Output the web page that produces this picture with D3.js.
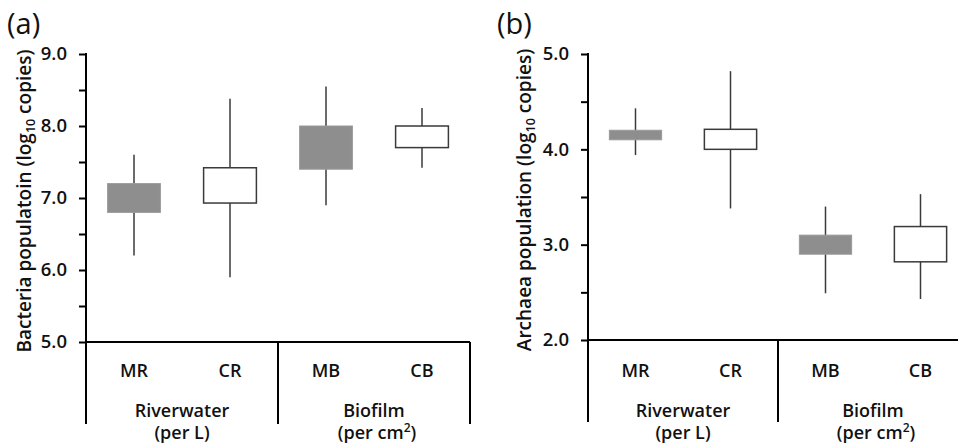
<!DOCTYPE html>
<html>
<head>
<meta charset="utf-8">
<script src="https://cdn.jsdelivr.net/npm/d3@7"></script>
<style>
  body { margin: 0; background: #fff; }
  text { font-family: "Open Sans", "Noto Sans", sans-serif; fill: #111; }
</style>
</head>
<body>
<svg id="chart" width="958" height="444"></svg>
<script>
// categories and groups
var categories = ["MR", "CR", "MB", "CB"];
var filled = [true, false, true, false];
var groups = ["Riverwater", "Biofilm"];

// panel (a): bacteria, log10 copies
var bacMin = [6.2, 5.9, 6.9, 7.42];
var bacQ1 = [6.8, 6.93, 7.4, 7.7];
var bacQ3 = [7.2, 7.42, 8.0, 8.0];
var bacMax = [7.6, 8.38, 8.55, 8.25];
var bacTicks = [5.0, 5.5, 6.0, 6.5, 7.0, 7.5, 8.0, 8.5, 9.0];

// panel (b): archaea, log10 copies
var arcMin = [3.94, 3.38, 2.49, 2.43];
var arcQ1 = [4.1, 4.0, 2.9, 2.82];
var arcQ3 = [4.2, 4.21, 3.1, 3.19];
var arcMax = [4.43, 4.82, 3.4, 3.53];
var arcTicks = [2.0, 2.5, 3.0, 3.5, 4.0, 4.5, 5.0];

var svg = d3.select("#chart");

function drawPanel(opt)
{
    var g = svg.append("g");

    var x = d3.scaleBand().domain(categories).range([opt.left, opt.right]);
    var y = d3.scaleLinear().domain(opt.domain).range([opt.bottom, opt.top]);

    var rows = categories.map(function(c, i){
        return {cat: c, lo: opt.min[i], q1: opt.q1[i], q3: opt.q3[i], hi: opt.max[i], fill: filled[i]};
    });

    // whiskers
    g.selectAll(".whisker").data(rows).enter()
        .append("line")
        .attr("x1", function(d){ return x(d.cat) + x.bandwidth()/2; })
        .attr("x2", function(d){ return x(d.cat) + x.bandwidth()/2; })
        .attr("y1", function(d){ return y(d.lo); })
        .attr("y2", function(d){ return y(d.hi); })
        .attr("stroke", "#3a3a3a")
        .attr("stroke-width", 1.5);

    var bw = x.bandwidth()*0.55;
    g.selectAll(".box").data(rows).enter()
        .append("rect")
        .attr("x", function(d){ return x(d.cat) + (x.bandwidth()-bw)/2; })
        .attr("width", bw)
        .attr("y", function(d){ return y(d.q3); })
        .attr("height", function(d){ return y(d.q1) - y(d.q3); })
        .attr("fill", function(d){ return d.fill ? "#8e8e8e" : "#fff"; })
        .attr("stroke", function(d){ return d.fill ? "#9a9a9a" : "#3a3a3a"; })
        .attr("stroke-width", function(d){ return d.fill ? 1 : 1.5; });

    // y axis
    var yAxis = d3.axisLeft(y)
        .tickValues(opt.ticks)
        .tickSize(7)
        .tickPadding(12)
        .tickFormat(function(d){ return d % 1 === 0 ? d3.format(".1f")(d) : ""; });
    var ya = g.append("g").attr("transform", "translate(" + opt.left + ",0)").call(yAxis);
    ya.select(".domain").remove();
    ya.selectAll(".tick line").attr("stroke", "#000").attr("stroke-width", 2);
    ya.selectAll(".tick text")
        .attr("font-size", 18.5).attr("font-weight", 600)
        .attr("font-family", "Open Sans").attr("fill", "#111");
    g.append("line")
        .attr("x1", opt.left).attr("x2", opt.left)
        .attr("y1", y(opt.domain[1]) - 1).attr("y2", opt.sepBottom)
        .attr("stroke", "#000").attr("stroke-width", 2);

    // x axis line and group separators
    g.append("line")
        .attr("x1", opt.left).attr("x2", opt.right)
        .attr("y1", y(opt.domain[0])).attr("y2", y(opt.domain[0]))
        .attr("stroke", "#000").attr("stroke-width", 2);
    [categories[2], categories[3]].forEach(function(c, i){
        var sx = i === 0 ? x(c) : x(c) + x.bandwidth();
        g.append("line")
            .attr("x1", sx).attr("x2", sx)
            .attr("y1", y(opt.domain[0])).attr("y2", opt.sepBottom)
            .attr("stroke", "#000").attr("stroke-width", 2);
    });

    // category labels
    g.selectAll(".cat").data(categories).enter()
        .append("text")
        .text(function(d){ return d; })
        .attr("x", function(d){ return x(d) + x.bandwidth()/2; })
        .attr("y", 377)
        .attr("text-anchor", "middle")
        .attr("font-size", 18).attr("font-weight", 600);

    // group labels
    var gx = [x(categories[1]), x(categories[3])];
    var units = [["(per L)", null], ["(per cm", "2", ")"]];
    groups.forEach(function(name, i){
        g.append("text").text(name)
            .attr("x", gx[i]).attr("y", 417)
            .attr("text-anchor", "middle")
            .attr("font-size", 18).attr("font-weight", 600);
        var t = g.append("text")
            .attr("x", gx[i] + (units[i][1] ? 3 : 0)).attr("y", 439)
            .attr("text-anchor", "middle")
            .attr("font-size", 18).attr("font-weight", 600);
        t.append("tspan").text(units[i][0]);
        if (units[i][1]) {
            t.append("tspan").text(units[i][1]).attr("font-size", 12).attr("dy", -7);
            t.append("tspan").text(units[i][2]).attr("dy", 7);
        }
    });

    // y title
    var yt = g.append("text")
        .attr("transform", "translate(" + opt.titleX + "," + ((opt.top + opt.bottom)/2 + 3) + ") rotate(-90)")
        .attr("text-anchor", "middle")
        .attr("font-size", 19).attr("font-weight", 600);
    yt.append("tspan").text(opt.title);
    yt.append("tspan").text("10").attr("font-size", 12.5).attr("dy", 4);
    yt.append("tspan").text(" copies)").attr("dy", -4);

    // panel letter
    g.append("text").text(opt.letter)
        .attr("x", opt.letterX).attr("y", 34)
        .attr("font-size", 29).attr("font-weight", 400);
}

drawPanel({
    letter: "(a)", letterX: 7,
    title: "Bacteria populatoin (log", titleX: 31,
    left: 86, right: 470, top: 54, bottom: 342, sepBottom: 424,
    domain: [5, 9], ticks: bacTicks,
    min: bacMin, q1: bacQ1, q3: bacQ3, max: bacMax
});

drawPanel({
    letter: "(b)", letterX: 497,
    title: "Archaea population (log", titleX: 531,
    left: 588, right: 968, top: 54, bottom: 340, sepBottom: 422,
    domain: [2, 5], ticks: arcTicks,
    min: arcMin, q1: arcQ1, q3: arcQ3, max: arcMax
});
</script>
</body>
</html>
